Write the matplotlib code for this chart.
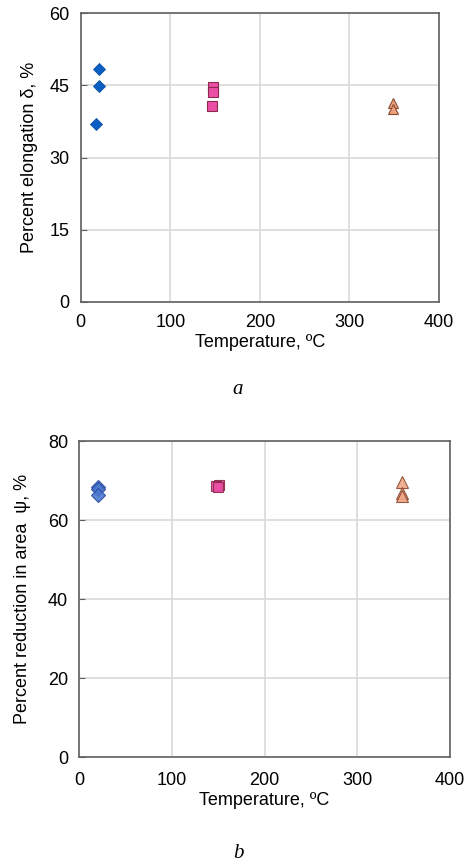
import matplotlib
matplotlib.use("Agg")
import matplotlib.pyplot as plt

plt.rcParams['font.family'] = ['Liberation Sans', 'DejaVu Sans']

# (a) percent elongation
el_t20 = [20, 20, 17]
el_v20 = [48.4, 44.9, 37.0]
el_t150 = [148, 148, 147]
el_v150 = [44.6, 43.6, 40.8]
el_t350 = [349, 349]
el_v350 = [41.3, 40.0]

# (b) percent reduction in area
ra_t20 = [20, 20, 20]
ra_v20 = [68.4, 67.9, 66.3]
ra_t150 = [151, 148, 150]
ra_v150 = [69.0, 68.5, 68.3]
ra_t350 = [348, 348, 348]
ra_v350 = [69.6, 66.8, 66.2]

x_ticks = [0, 100, 200, 300, 400]

fig = plt.figure(figsize=(4.76, 8.64), dpi=100)
ax1 = fig.add_axes([0.1695, 0.6508, 0.7527, 0.3338])
ax2 = fig.add_axes([0.166, 0.1238, 0.7795, 0.3657])


def style(ax, ymax, ystep, ylabel, xpad, ypad):
    ax.set_xlim(0, 400)
    ax.set_ylim(0, ymax)
    ax.set_xticks(x_ticks)
    ax.set_yticks(range(0, ymax + 1, ystep))
    ax.grid(True, color='#d9d9d9', linewidth=1.2)
    ax.set_axisbelow(True)
    for s in ax.spines.values():
        s.set_color('#606060')
        s.set_linewidth(1.2)
    ax.tick_params(axis='y', direction='in', length=4, color='#606060',
                   labelsize=13, pad=8)
    ax.tick_params(axis='x', length=0, labelsize=13, pad=xpad)
    ax.set_xlabel('Temperature, ºC', fontsize=13, labelpad=2)
    ax.set_ylabel(ylabel, fontsize=13, labelpad=ypad)


style(ax1, 60, 15, 'Percent elongation δ, %', 9, 8)
ax1.plot(el_t20, el_v20, 'D', color='#0a5fc4', markersize=6.5, markeredgecolor='#0a4fa0', markeredgewidth=0.6)
ax1.plot(el_t150, el_v150, 's', color='#ec4fa6', markersize=6.5, markeredgecolor='#8a2a4a', markeredgewidth=0.8)
ax1.plot(el_t350, el_v350, '^', color='#eda07e', markersize=7.5, markeredgecolor='#8a4a30', markeredgewidth=0.8)

style(ax2, 80, 20, 'Percent reduction in area  ψ, %', 11, 12)
ax2.plot(ra_t20, ra_v20, 'D', color='#4a78d0', markersize=7, markeredgecolor='#2a4aa0', markeredgewidth=0.8, alpha=0.9)
ax2.plot(ra_t150, ra_v150, 's', color='#ec4fa6', markersize=7, markeredgecolor='#8a2a4a', markeredgewidth=0.8, alpha=0.9)
ax2.plot(ra_t350, ra_v350, '^', color='#f0a888', markersize=8, markeredgecolor='#8a4a30', markeredgewidth=0.8, alpha=0.9)

fig.text(0.5, 1 - 390 / 864, 'a', fontsize=15, style='italic',
         family=['Liberation Serif'], ha='center', va='center')
fig.text(0.5, 1 - 853 / 864, 'b', fontsize=15, style='italic',
         family=['Liberation Serif'], ha='center', va='center')

fig.savefig('out.png')
